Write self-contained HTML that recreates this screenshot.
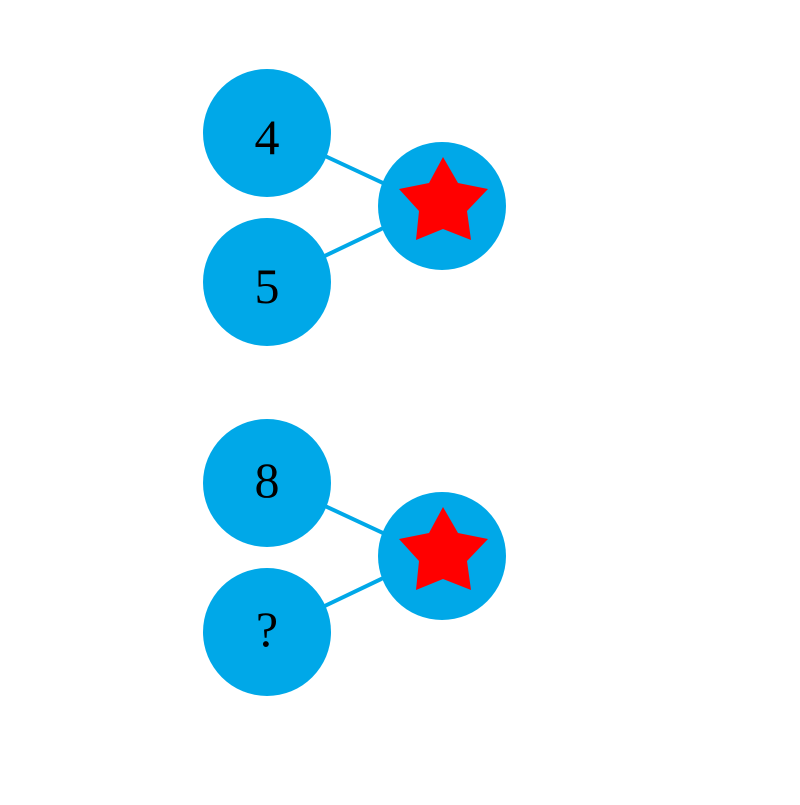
<!DOCTYPE html>
<html><head><meta charset="utf-8"><style>html,body{margin:0;padding:0;background:#fff}</style></head>
<body>
<svg width="800" height="800" viewBox="0 0 800 800" xmlns="http://www.w3.org/2000/svg">
<defs><polygon id="st" points="443,157 458,183 488,189 467,211 471,240 443,229 416,240 419,211 399,189 429,183" fill="#ff0000"/></defs>
<g stroke="#00a8e8" stroke-width="4">
<line x1="310" y1="149" x2="400" y2="191"/><line x1="310" y1="263" x2="400" y2="220"/>
<line x1="310" y1="499" x2="400" y2="541"/><line x1="310" y1="613" x2="400" y2="570"/>
</g>
<g fill="#00a8e8">
<circle cx="267" cy="133" r="64"/><circle cx="267" cy="282" r="64"/><circle cx="442" cy="206" r="64"/>
<circle cx="267" cy="483" r="64"/><circle cx="267" cy="632" r="64"/><circle cx="442" cy="556" r="64"/>
</g>
<use href="#st"/><use href="#st" transform="translate(0,350)"/>
<g font-family="Liberation Serif, serif" font-size="50" text-anchor="middle" fill="#000">
<text x="267" y="154">4</text><text x="267" y="303">5</text><text x="267" y="497">8</text><text x="267" y="646">?</text>
</g>
</svg>
</body></html>
